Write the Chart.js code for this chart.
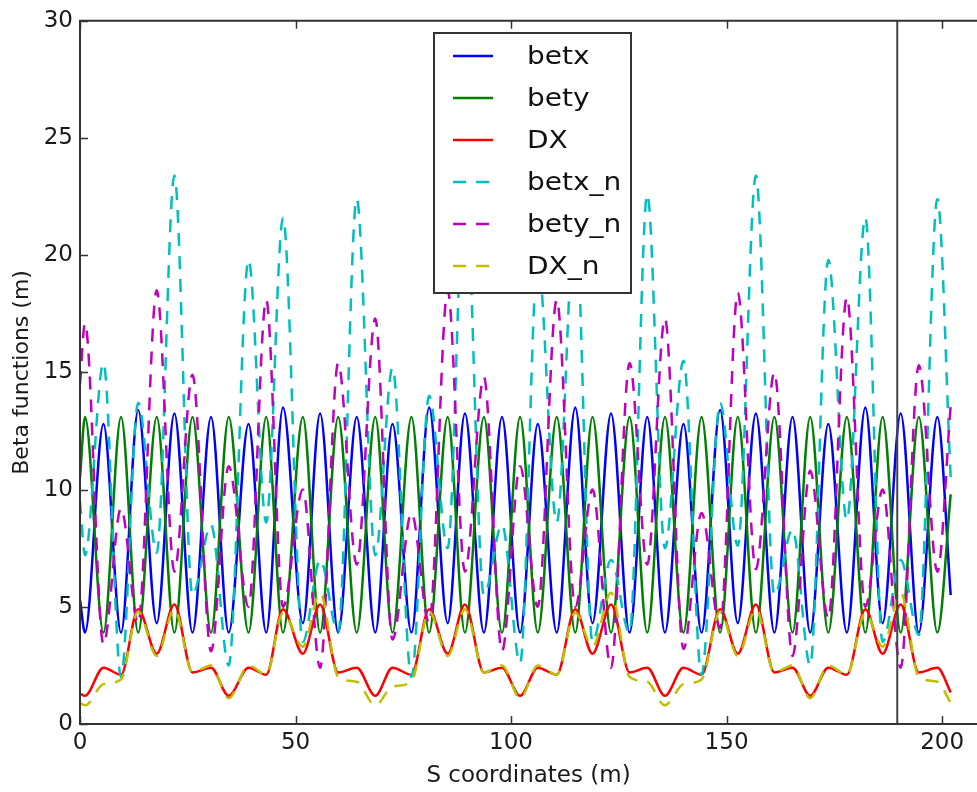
<!DOCTYPE html>
<html>
<head>
<meta charset="utf-8">
<script src="https://cdn.jsdelivr.net/npm/chart.js@4.4.1/dist/chart.umd.min.js"></script>
<style>
  html, body { margin: 0; padding: 0; background: #fff; overflow: hidden; }
  canvas { display: block; }
</style>
</head>
<body>
<canvas id="optics" width="977" height="792"></canvas>
<script>
// s positions (m) where the optics functions have their turning points (quads)
const sPos = [0, 1.16, 5.44, 9.52, 13.5, 17.8, 21.9, 26.1, 30.4, 34.5,
  39.1, 43.2, 47.1, 51.7, 55.7, 59.9, 64.2, 68.5, 72.5, 76.9,
  81.0, 85.3, 89.3, 93.7, 97.9, 102.1, 106.2, 110.6, 114.9, 118.9,
  123.2, 127.5, 131.6, 135.7, 140.0, 144.2, 148.5, 152.6, 156.8, 161.1,
  165.3, 169.4, 173.6, 177.9, 182.2, 186.2, 190.4, 194.6, 198.9, 202.0];

const betx = [5.3, 3.9, 12.8, 3.9, 13.4, 4.3, 13.25, 3.9, 13.1, 3.9,
  12.8, 3.9, 13.5, 4.3, 13.25, 3.9, 13.1, 3.9, 12.8, 3.9,
  13.5, 4.3, 13.25, 3.9, 13.1, 3.9, 12.8, 3.9, 13.5, 4.3,
  13.25, 3.9, 13.1, 3.9, 12.8, 3.9, 13.4, 4.3, 13.25, 3.9,
  13.1, 3.9, 12.8, 3.9, 13.5, 4.3, 13.25, 3.9, 13.1, 5.5];

const bety = [10.5, 13.1, 3.9, 13.1, 3.9, 13.1, 3.9, 13.1, 3.9, 13.1,
  3.9, 13.1, 3.9, 13.1, 3.9, 13.1, 3.9, 13.1, 3.9, 13.1,
  3.9, 13.1, 3.9, 13.1, 3.9, 13.1, 3.9, 13.1, 3.9, 13.1,
  3.9, 13.1, 3.9, 13.1, 3.9, 13.1, 3.9, 13.1, 3.9, 13.1,
  3.9, 13.1, 3.9, 13.1, 3.9, 13.1, 3.9, 13.1, 3.9, 9.8];

const dx = [1.3, 1.2, 2.4, 2.1, 4.9, 3.0, 5.1, 2.2, 2.4, 1.2,
  2.4, 2.1, 4.9, 3.0, 5.1, 2.2, 2.4, 1.2, 2.4, 2.1,
  4.9, 3.0, 5.1, 2.2, 2.4, 1.2, 2.4, 2.1, 4.9, 3.0,
  5.1, 2.2, 2.4, 1.2, 2.4, 2.1, 4.9, 3.0, 5.1, 2.2,
  2.4, 1.2, 2.4, 2.1, 4.9, 3.0, 5.1, 2.2, 2.4, 1.35];

const betxN = [9.5, 7.2, 15.4, 2.0, 13.7, 7.3, 23.4, 5.5, 8.5, 2.5,
  19.8, 8.6, 21.6, 3.5, 7.0, 3.9, 22.4, 7.2, 15.2, 2.0,
  14.0, 7.5, 23.4, 5.5, 8.5, 2.6, 19.8, 8.6, 21.6, 3.5,
  7.0, 3.9, 22.6, 7.5, 15.5, 2.1, 13.7, 7.6, 23.4, 5.5,
  8.3, 2.5, 19.8, 8.7, 21.6, 3.5, 7.0, 3.8, 22.4, 10.5];

const betyN = [14.5, 17.1, 3.4, 9.2, 4.3, 18.5, 6.5, 14.9, 3.1, 11.0,
  5.0, 18.1, 5.0, 10.0, 2.4, 15.4, 6.8, 17.3, 3.6, 9.0,
  4.3, 18.5, 6.5, 14.8, 3.1, 11.0, 5.0, 18.1, 5.0, 10.0,
  2.4, 15.4, 6.8, 17.3, 3.2, 9.0, 4.1, 18.4, 6.6, 15.0,
  2.9, 10.8, 4.5, 18.2, 5.0, 10.0, 2.4, 15.3, 6.5, 13.6];

const dxN = [0.9, 0.8, 1.7, 1.9, 4.8, 2.9, 4.9, 2.2, 2.5, 1.1,
  2.5, 2.1, 4.75, 3.3, 5.6, 2.0, 1.8, 0.8, 1.6, 1.8,
  4.8, 2.9, 4.9, 2.2, 2.5, 1.1, 2.5, 2.1, 4.75, 3.3,
  5.6, 2.0, 1.8, 0.8, 1.7, 1.9, 4.8, 2.9, 4.9, 2.2,
  2.5, 1.1, 2.5, 2.1, 4.75, 3.3, 5.6, 2.0, 1.8, 0.9];

const markerS = 189.6;
const xTicks = [0, 50, 100, 150, 200];
const yTicks = [0, 5, 10, 15, 20, 25, 30];

const FONT = "'DejaVu Sans', 'Liberation Sans', sans-serif";
const FRAME = '#333';

function pts(vals) {
  return vals.map((v, i) => ({ x: sPos[i], y: v }));
}

function series(label, vals, color, dashed, order) {
  return {
    label: label,
    data: pts(vals),
    borderColor: color,
    backgroundColor: color,
    borderWidth: 2.5,
    borderDash: dashed ? [13, 10] : [],
    cubicInterpolationMode: 'monotone',
    pointRadius: 0,
    fill: false,
    order: order
  };
}

// frame and inward ticks, matplotlib style
const framePlugin = {
  id: 'frame',
  afterDraw(chart) {
    const { ctx, chartArea: a, scales } = chart;
    ctx.save();
    ctx.strokeStyle = FRAME;
    ctx.lineWidth = 2;
    ctx.setLineDash([]);
    ctx.beginPath();
    ctx.moveTo(a.right + 2, a.top);
    ctx.lineTo(a.left, a.top);
    ctx.lineTo(a.left, a.bottom);
    ctx.lineTo(a.right + 2, a.bottom);
    ctx.stroke();
    ctx.lineWidth = 1.5;
    ctx.beginPath();
    xTicks.forEach(v => {
      const px = Math.round(scales.x.getPixelForValue(v)) + 0.5;
      ctx.moveTo(px, a.bottom); ctx.lineTo(px, a.bottom - 8);
      ctx.moveTo(px, a.top); ctx.lineTo(px, a.top + 8);
    });
    yTicks.forEach(v => {
      const py = Math.round(scales.y.getPixelForValue(v)) + 0.5;
      ctx.moveTo(a.left, py); ctx.lineTo(a.left + 8, py);
    });
    ctx.stroke();
    ctx.restore();
  }
};

// boxed legend drawn over the lines, like the original
const boxLegend = {
  id: 'boxLegend',
  afterDatasetsDraw(chart) {
    const { ctx } = chart;
    const items = chart.data.datasets.filter(d => !d.noLegend);
    const box = { x: 434, y: 33, w: 197, h: 260 };
    ctx.save();
    ctx.fillStyle = '#fff';
    ctx.fillRect(box.x, box.y, box.w, box.h);
    ctx.strokeStyle = FRAME;
    ctx.lineWidth = 2;
    ctx.strokeRect(box.x, box.y, box.w, box.h);
    ctx.font = '25px ' + FONT;
    ctx.textBaseline = 'middle';
    items.forEach((d, i) => {
      const y = box.y + 23 + i * 42;
      ctx.strokeStyle = d.borderColor;
      ctx.lineWidth = 2.5;
      ctx.setLineDash(d.borderDash);
      ctx.beginPath();
      ctx.moveTo(453, y);
      ctx.lineTo(493, y);
      ctx.stroke();
      ctx.setLineDash([]);
      ctx.fillStyle = '#111';
      ctx.save();
      ctx.translate(527, y + 1);
      ctx.scale(1.12, 1);
      ctx.fillText(d.label, 0, 0);
      ctx.restore();
    });
    ctx.restore();
  }
};

new Chart(document.getElementById('optics'), {
  type: 'line',
  data: {
    datasets: [
      series('betx', betx, '#0000ff', false, 7),
      series('bety', bety, '#008000', false, 6),
      series('DX', dx, '#ff0000', false, 5),
      series('betx_n', betxN, '#00bfbf', true, 4),
      series('bety_n', betyN, '#bf00bf', true, 3),
      series('DX_n', dxN, '#bfbf00', true, 2),
      {
        label: 'marker',
        noLegend: true,
        data: [{ x: markerS, y: 0 }, { x: markerS, y: 30 }],
        borderColor: '#444',
        borderWidth: 2,
        pointRadius: 0,
        tension: 0,
        order: 1
      }
    ]
  },
  options: {
    responsive: false,
    animation: false,
    layout: { padding: { top: 19, right: 0, bottom: 0, left: 0 } },
    plugins: {
      legend: { display: false },
      tooltip: { enabled: false }
    },
    scales: {
      x: {
        type: 'linear',
        min: 0,
        max: 208.1,
        grid: { display: false, drawTicks: false },
        border: { display: false },
        ticks: {
          font: { family: FONT, size: 23 },
          color: '#1a1a1a',
          padding: 5,
          maxRotation: 0
        },
        afterBuildTicks: s => { s.ticks = xTicks.map(v => ({ value: v })); },
        afterFit: s => { s.height = 68; },
        title: {
          display: true,
          text: 'S coordinates (m)',
          font: { family: FONT, size: 23 },
          color: '#1a1a1a',
          padding: { top: 0, bottom: 2 }
        }
      },
      y: {
        type: 'linear',
        min: 0,
        max: 30,
        grid: { display: false, drawTicks: false },
        border: { display: false },
        ticks: {
          stepSize: 5,
          font: { family: FONT, size: 23 },
          color: '#1a1a1a',
          padding: 7
        },
        afterFit: s => { s.width = 80; },
        title: {
          display: true,
          text: 'Beta functions (m)',
          font: { family: FONT, size: 22 },
          color: '#1a1a1a',
          padding: { top: 9, bottom: 0 }
        }
      }
    }
  },
  plugins: [boxLegend, framePlugin]
});
</script>
</body>
</html>
